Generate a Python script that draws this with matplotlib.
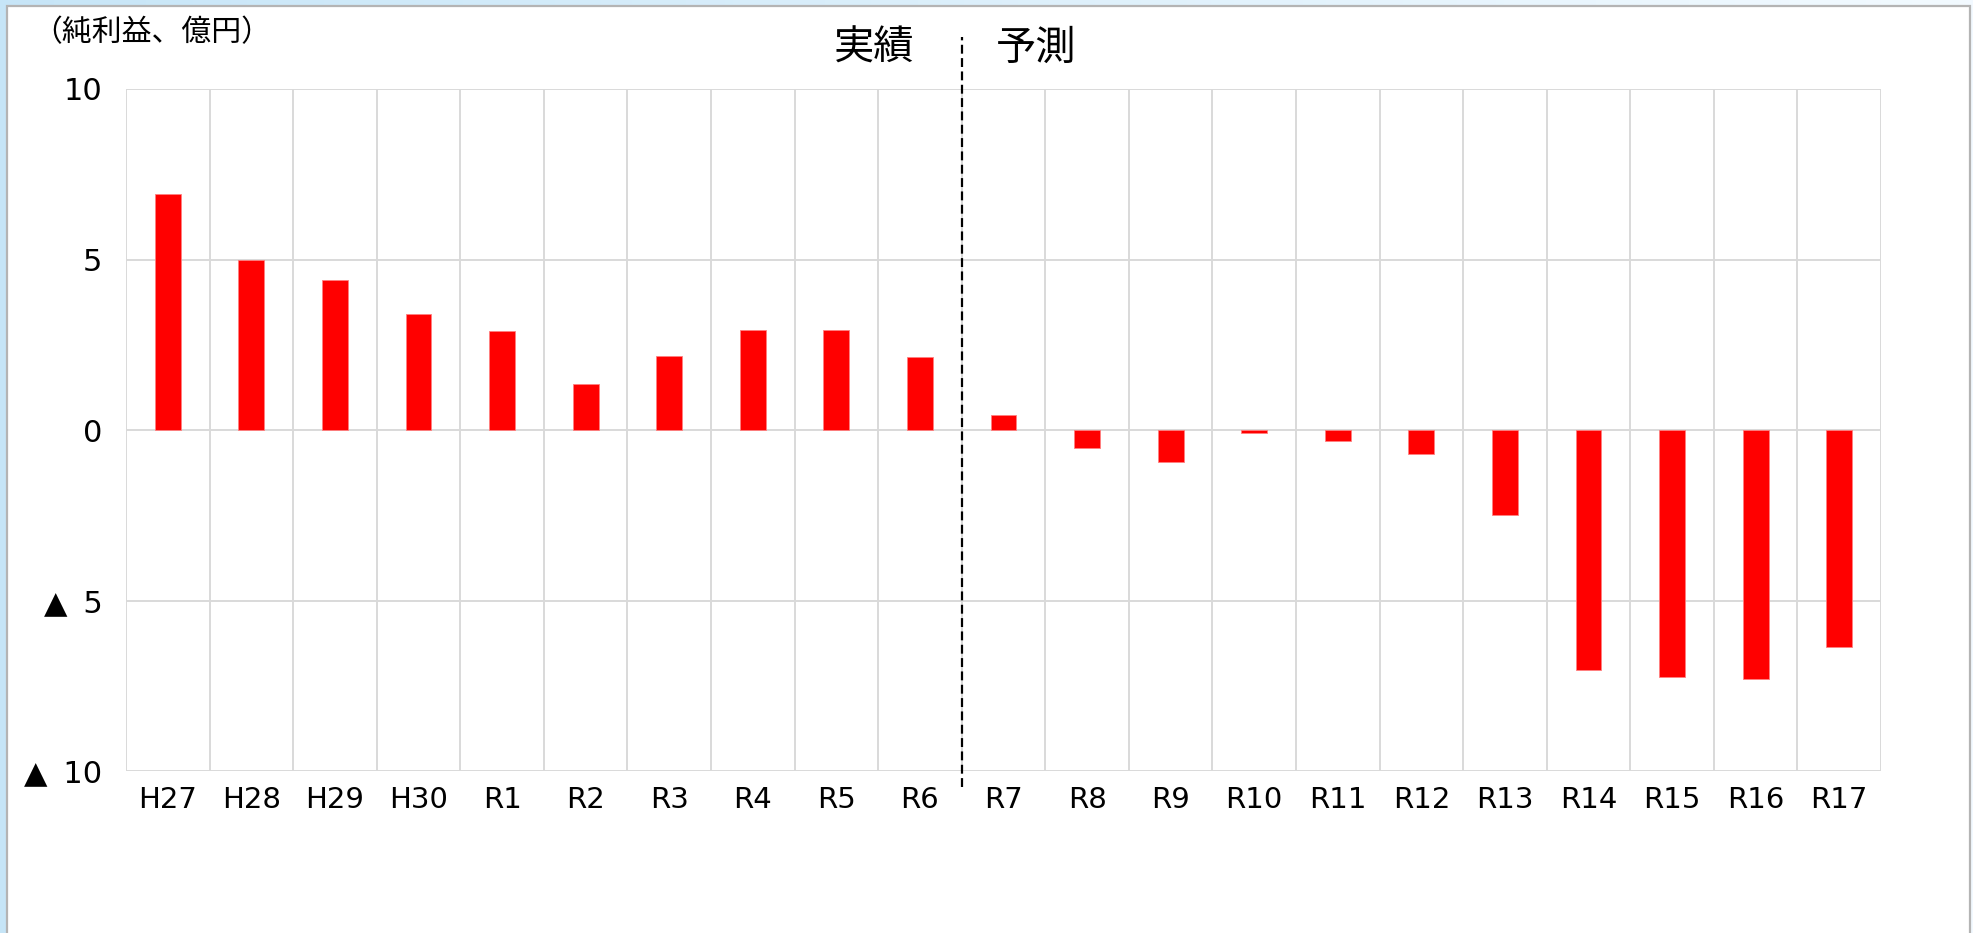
import matplotlib
matplotlib.use("Agg")
import matplotlib.pyplot as plt
import numpy as np
from matplotlib.patches import Rectangle

plt.rcParams['font.family'] = ['DejaVu Sans', 'Noto Sans CJK JP']
CJK = ['Noto Sans CJK JP', 'DejaVu Sans']

categories = ["H27", "H28", "H29", "H30", "R1", "R2", "R3", "R4", "R5", "R6",
              "R7", "R8", "R9", "R10", "R11", "R12", "R13", "R14", "R15", "R16", "R17"]
net_income = [6.91, 5.0, 4.40, 3.40, 2.90, 1.35, 2.18, 2.94, 2.93, 2.13,
              0.45, -0.52, -0.94, -0.09, -0.33, -0.69, -2.48, -7.04, -7.25, -7.29, -6.37]
y_ticks = [-10, -5, 0, 5, 10]
y_tick_labels = ["▲\u2009 10", "▲\u2009 5", "0", "5", "10"]
y_label = "（純利益、億円）"
label_actual = "実績"
label_forecast = "予測"

W, H = 1974, 933
fig = plt.figure(figsize=(W / 100, H / 100), dpi=100)
fig.patch.set_facecolor("#cde7f8")

# background gradient (light blue frame)
bg = fig.add_axes([0, 0, 1, 1], zorder=-10)
grad = np.linspace(0, 1, 256)
c0 = np.array([0.78, 0.90, 0.97])
c1 = np.array([0.95, 0.98, 1.0])
img = c0[None, :] * (1 - grad[:, None]) + c1[None, :] * grad[:, None]
bg.imshow(img[None, :, :], aspect="auto", extent=[0, 1, 0, 1])
bg.set_axis_off()
fig.add_artist(Rectangle((7 / W, -0.01), (1970 - 7) / W, 1.01 - 6 / H,
                         transform=fig.transFigure, facecolor="white",
                         edgecolor="#b4b4b4", lw=1.6, zorder=-5))

left, right, top, bottom = 126 / W, 1881 / W, 1 - 89 / H, 1 - 771 / H
ax = fig.add_axes([left, bottom, right - left, top - bottom])
ax.set_facecolor("none")

x = np.arange(len(categories))
ax.bar(x, net_income, width=0.31, color="#ff0000", edgecolor="#ff8080",
       linewidth=0.6, zorder=3)

ax.set_xlim(-0.5, len(categories) - 0.5)
ax.set_ylim(-10, 10)
ax.set_yticks(y_ticks)
ax.set_yticklabels(y_tick_labels, fontsize=22)
ax.set_xticks(x)
ax.set_xticklabels(categories, fontsize=21)
ax.tick_params(axis="both", length=0)
ax.tick_params(axis="y", pad=17)
ax.tick_params(axis="x", pad=11)

grid_c = "#d9d9d9"
for yv in y_ticks:
    ax.axhline(yv, color=grid_c, lw=1.4, zorder=1)
for xv in np.arange(-0.5, len(categories), 1.0):
    ax.axvline(xv, color=grid_c, lw=1.4, zorder=1)
for s in ax.spines.values():
    s.set_visible(False)

# divider between actual and forecast
ax_h = 771 - 89
ax.axvline(9.5, ymin=(771 - 787) / ax_h, ymax=(771 - 37) / ax_h, color="black",
           lw=1.6, linestyle=(0, (4, 2)), clip_on=False, zorder=4)

fig.text(874 / W, 1 - 48.5 / H, label_actual, ha="center", va="center",
         fontsize=29, family=CJK)
fig.text(1036 / W, 1 - 48.5 / H, label_forecast, ha="center", va="center",
         fontsize=29, family=CJK)
fig.text(32 / W, 1 - 33 / H, y_label, ha="left", va="center", fontsize=21.5, family=CJK)

fig.savefig("out.png", dpi=100)
